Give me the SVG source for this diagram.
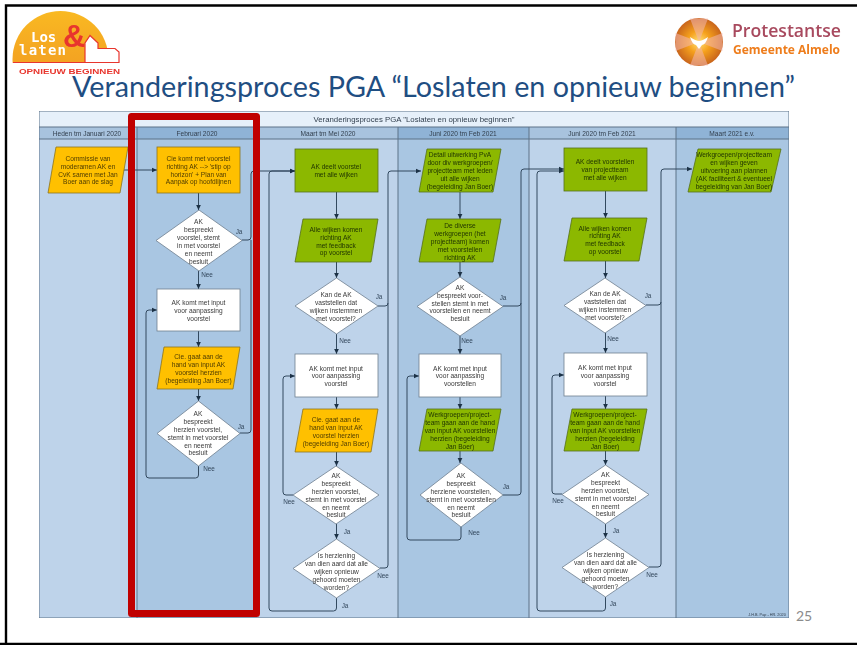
<svg xmlns="http://www.w3.org/2000/svg" width="857" height="645" viewBox="0 0 857 645">
<style>
.t{font-family:"Liberation Sans",Arial,sans-serif;font-size:6.6px;text-anchor:middle;fill:#3a3a3a}
.o{fill:#4f3c00}.g{fill:#1f3300}
.l{font-family:"Liberation Sans",Arial,sans-serif;font-size:6.4px;text-anchor:middle;fill:#33475c}
.h{font-family:"Liberation Sans",Arial,sans-serif;font-size:6.6px;text-anchor:middle;fill:#33404f}
.c{fill:none;stroke:#33495f;stroke-width:1}
.nw{fill:#fff;stroke:#6f7f8f;stroke-width:.8}
.no{fill:#ffc000;stroke:#8a7320;stroke-width:.8}
.ng{fill:#8cb800;stroke:#55701a;stroke-width:.8}
.lane{fill:none;stroke:#5d7288;stroke-width:1}
</style>
<defs>
<marker id="a" markerUnits="userSpaceOnUse" markerWidth="6" markerHeight="6" refX="5.500" refY="3" orient="auto"><path d="M0 .4L5.500 3L0 5.600z" fill="#1f3347"/></marker>
<filter id="b" x="0" y="0" width="100%" height="100%"><feGaussianBlur stdDeviation="0.3"/></filter>
<radialGradient id="sun" cx="50%" cy="50%" r="50%"><stop offset="0" stop-color="#ffe27a"/><stop offset=".45" stop-color="#f6a21f"/><stop offset="1" stop-color="#c9651d"/></radialGradient>
<linearGradient id="logo" x1="0" y1="0" x2="0" y2="1"><stop offset="0" stop-color="#f9b923"/><stop offset="1" stop-color="#ef8f1f"/></linearGradient>
<clipPath id="sunclip"><rect x="10" y="5" width="110" height="58"/></clipPath>
</defs>
<rect width="857" height="645" fill="#fff"/>
<path d="M6 645V5.500H857M0 644H857" fill="none" stroke="#000" stroke-width="2.400"/>

<g id="logo-los-laten" filter="url(#b)">
<circle cx="60.500" cy="59" r="48" fill="url(#logo)" clip-path="url(#sunclip)"/>
<path d="M85 63V43L90 35.500L98 43V48.500H115L119 52V62.500H13" fill="#fff" stroke="#e8352d" stroke-width="1.200"/>
<text x="31" y="42" font-family="DejaVu Sans Mono,monospace" font-size="14" font-weight="bold" fill="#fff">Los</text>
<text x="19" y="55" font-family="DejaVu Sans Mono,monospace" font-size="14" font-weight="bold" letter-spacing="1.200" fill="#fff">laten</text>
<text x="63" y="47" font-family="Liberation Sans,sans-serif" font-size="31" font-weight="bold" fill="#e8352d">&amp;</text>
<text x="19" y="73.500" font-family="Liberation Sans,sans-serif" font-size="7.300" font-weight="bold" fill="#e8352d" textLength="101" lengthAdjust="spacingAndGlyphs">OPNIEUW BEGINNEN</text>
</g>

<g id="logo-protestantse" filter="url(#b)">
<circle cx="699" cy="42" r="24" fill="url(#sun)"/>
<path d="M699 42L690 18.500H708zM699 42L690 65.500H708zM699 42L675.500 33V51zM699 42L722.500 33V51z" fill="#f3b7b0" opacity=".55"/>
<path d="M690 37Q696 41 699 41Q702 41 708 37Q706 44 702 45L699 49L696 45Q692 44 690 37z" fill="#fff"/>
<text x="732" y="37" font-family="Open Sans,sans-serif" font-size="18" font-weight="600" fill="#a84a5e" textLength="109" lengthAdjust="spacingAndGlyphs">Protestantse</text>
<text x="733" y="54" font-family="Open Sans,sans-serif" font-size="12.500" font-weight="bold" fill="#ee7d1c" textLength="107" lengthAdjust="spacingAndGlyphs">Gemeente Almelo</text>
</g>

<text id="title" x="72" y="97" font-family="Lato,Open Sans,sans-serif" font-size="29" fill="#1f4e82" textLength="723" lengthAdjust="spacingAndGlyphs">Veranderingsproces PGA “Loslaten en opnieuw beginnen”</text>

<g id="diagram" filter="url(#b)">
<g id="lanes">
<rect x="39" y="111" width="750" height="507" fill="#e6f0fa"/>
<rect x="39" y="139" width="98" height="479" fill="#bed3ea"/>
<rect x="137" y="139" width="120" height="479" fill="#a9c6e2"/>
<rect x="257" y="139" width="141" height="479" fill="#bed3ea"/>
<rect x="398" y="139" width="131" height="479" fill="#a9c6e2"/>
<rect x="529" y="139" width="147" height="479" fill="#bed3ea"/>
<rect x="676" y="139" width="113" height="479" fill="#a9c6e2"/>
<rect x="39" y="127" width="98" height="12" fill="#a8c3de"/>
<rect x="137" y="127" width="120" height="12" fill="#8fb3d6"/>
<rect x="257" y="127" width="141" height="12" fill="#a8c3de"/>
<rect x="398" y="127" width="131" height="12" fill="#8fb3d6"/>
<rect x="529" y="127" width="147" height="12" fill="#a8c3de"/>
<rect x="676" y="127" width="113" height="12" fill="#8fb3d6"/>
<path class="lane" d="M39 127H789M39 139H789M137 127V618M398 127V618M529 127V618M676 127V618M39 111H789V618H39z"/>
<text class="h" x="414" y="122" style="font-size:7.800px">Veranderingsproces PGA "Loslaten en opnieuw beginnen"</text>
<text class="h" x="87" y="135.500">Heden tm Januari 2020</text>
<text class="h" x="197" y="135.500">Februari 2020</text>
<text class="h" x="328" y="135.500">Maart tm Mei 2020</text>
<text class="h" x="463" y="135.500">Juni 2020 tm Feb 2021</text>
<text class="h" x="602" y="135.500">Juni 2020 tm Feb 2021</text>
<text class="h" x="732" y="135.500">Maart 2021 e.v.</text>
<text class="h" x="767" y="615.500" style="font-size:3.800px">J.H.B. Pap - HR. 2020</text>
</g>

<g id="connectors">
<path class="c" marker-end="url(#a)" d="M122 170H157"/>
<path class="c" marker-end="url(#a)" d="M198.500 193V210"/>
<path class="c" marker-end="url(#a)" d="M198.500 271V289"/>
<path class="c" marker-end="url(#a)" d="M198.500 331V347"/>
<path class="c" marker-end="url(#a)" d="M198.500 389V401"/>
<path class="c" marker-end="url(#a)" d="M242 240H248Q251 240 251 237V174Q251 171 254 171H295"/>
<path class="c" d="M240 433H248Q251 433 251 430V240"/>
<path class="c" marker-end="url(#a)" d="M198.500 466V475Q198.500 478 195.500 478H149Q146 478 146 475V313Q146 310 149 310H157"/>
<path class="c" marker-end="url(#a)" d="M336.500 598V608Q336.500 611 333.500 611H272Q269 611 269 608V174Q269 171 272 171H295"/>
<path class="c" marker-end="url(#a)" d="M336.500 192V219"/>
<path class="c" marker-end="url(#a)" d="M336.500 262V278"/>
<path class="c" marker-end="url(#a)" d="M336.500 334V354"/>
<path class="c" marker-end="url(#a)" d="M336.500 397V409"/>
<path class="c" marker-end="url(#a)" d="M336.500 452V466"/>
<path class="c" marker-end="url(#a)" d="M336.500 524V539"/>
<path class="c" marker-end="url(#a)" d="M293 495H286Q283 495 283 492V379Q283 376 286 376H295"/>
<path class="c" marker-end="url(#a)" d="M380 568H385Q388 568 388 565V174Q388 171 391 171H421"/>
<path class="c" d="M378 306H385Q388 306 388 303"/>
<path class="c" marker-end="url(#a)" d="M460 192V219"/>
<path class="c" marker-end="url(#a)" d="M460 262V277"/>
<path class="c" marker-end="url(#a)" d="M460 336V354"/>
<path class="c" marker-end="url(#a)" d="M460 397V409"/>
<path class="c" marker-end="url(#a)" d="M460 451V463"/>
<path class="c" marker-end="url(#a)" d="M461 527V537Q461 540 458 540H410Q407 540 407 537V379Q407 376 410 376H419"/>
<path class="c" marker-end="url(#a)" d="M503 495H518Q521 495 521 492V172Q521 169 524 169H564"/>
<path class="c" d="M503 306H518Q521 306 521 303"/>
<path class="c" marker-end="url(#a)" d="M605.500 191V218"/>
<path class="c" marker-end="url(#a)" d="M605.500 261V278"/>
<path class="c" marker-end="url(#a)" d="M605.500 333V353"/>
<path class="c" marker-end="url(#a)" d="M605.500 396V409"/>
<path class="c" marker-end="url(#a)" d="M605.500 451V465"/>
<path class="c" marker-end="url(#a)" d="M605.500 524V538"/>
<path class="c" marker-end="url(#a)" d="M562 494H555Q552 494 552 491V378Q552 375 555 375H564"/>
<path class="c" marker-end="url(#a)" d="M649 567H658Q661 567 661 564V172Q661 169 664 169H692"/>
<path class="c" d="M646 305H658Q661 305 661 302"/>
<path class="c" marker-end="url(#a)" d="M605.500 597V608Q605.500 611 602.500 611H540Q537 611 537 608V174Q537 171 540 171H564"/>
<text class="l" x="239" y="234">Ja</text><text class="l" x="207" y="276.500">Nee</text>
<text class="l" x="241" y="429">Ja</text><text class="l" x="209" y="471">Nee</text>
<text class="l" x="379" y="299">Ja</text><text class="l" x="345" y="343">Nee</text>
<text class="l" x="289" y="504">Nee</text><text class="l" x="347" y="534">Ja</text>
<text class="l" x="383" y="578">Nee</text><text class="l" x="345" y="608">Ja</text>
<text class="l" x="503" y="300">Ja</text><text class="l" x="467" y="343">Nee</text>
<text class="l" x="506" y="489">Ja</text><text class="l" x="474" y="535">Nee</text>
<text class="l" x="648" y="298">Ja</text><text class="l" x="613" y="341">Nee</text>
<text class="l" x="558" y="503">Nee</text><text class="l" x="616" y="533">Ja</text>
<text class="l" x="652" y="577">Nee</text><text class="l" x="613" y="606">Ja</text>
</g>

<g id="n1"><path class="no" d="M56 147H128L120 193H48z"/><text class="t o" y="161"><tspan x="88">Commissie van</tspan><tspan x="88" dy="7.800">moderamen AK en</tspan><tspan x="88" dy="7.800">CvK samen met Jan</tspan><tspan x="88" dy="7.800">Boer aan de slag</tspan></text></g>

<g id="n2"><rect class="no" x="157" y="147" width="83" height="46"/><text class="t o" y="161"><tspan x="198.500">Cie komt met voorstel</tspan><tspan x="198.500" dy="7.800">richting AK --&gt; 'stip op</tspan><tspan x="198.500" dy="7.800">horizon' + Plan van</tspan><tspan x="198.500" dy="7.800">Aanpak op hoofdlijnen</tspan></text></g>
<g id="n3"><path class="nw" d="M199 210L242 240.500L199 271L156 240.500z"/><text class="t" y="224"><tspan x="198.500">AK</tspan><tspan x="198.500" dy="7.900">bespreekt</tspan><tspan x="198.500" dy="7.900">voorstel, stemt</tspan><tspan x="198.500" dy="7.900">in met voorstel</tspan><tspan x="198.500" dy="7.900">en neemt</tspan><tspan x="198.500" dy="7.900">besluit</tspan></text></g>
<g id="n4"><rect class="nw" x="157" y="289" width="83" height="42"/><text class="t" y="305"><tspan x="198.500">AK komt met input</tspan><tspan x="198.500" dy="7.800">voor aanpassing</tspan><tspan x="198.500" dy="7.800">voorstel</tspan></text></g>
<g id="n5"><path class="no" d="M164 347H240L233 389H157z"/><text class="t o" y="359"><tspan x="198.500">Cie. gaat aan de</tspan><tspan x="198.500" dy="8">hand van input AK</tspan><tspan x="198.500" dy="8">voorstel herzien</tspan><tspan x="198.500" dy="8">(begeleiding Jan Boer)</tspan></text></g>
<g id="n6"><path class="nw" d="M198.500 401L240 433.500L198.500 466L157 433.500z"/><text class="t" y="416.300"><tspan x="198">AK</tspan><tspan x="198" dy="7.800">bespreekt</tspan><tspan x="198" dy="7.800">herzien voorstel,</tspan><tspan x="198" dy="7.800">stemt in met voorstel</tspan><tspan x="198" dy="7.800">en neemt</tspan><tspan x="198" dy="7.800">besluit</tspan></text></g>

<g id="n7"><rect class="ng" x="295" y="149" width="83" height="43"/><text class="t g" y="169"><tspan x="336">AK deelt voorstel</tspan><tspan x="336" dy="8">met alle wijken</tspan></text></g>
<g id="n8"><path class="ng" d="M303 219H378L371 262H295z"/><text class="t g" y="232.300"><tspan x="336">Alle wijken komen</tspan><tspan x="336" dy="7.700">richting AK</tspan><tspan x="336" dy="7.700">met feedback</tspan><tspan x="336" dy="7.700">op voorstel</tspan></text></g>
<g id="n9"><path class="nw" d="M336.500 278L378 306L336.500 334L295 306z"/><text class="t" y="297.300"><tspan x="336">Kan de AK</tspan><tspan x="336" dy="7.800">vaststellen dat</tspan><tspan x="336" dy="7.800">wijken instemmen</tspan><tspan x="336" dy="7.800">met voorstel?</tspan></text></g>
<g id="n10"><rect class="nw" x="295" y="354" width="83" height="43"/><text class="t" y="370.600"><tspan x="336">AK komt met input</tspan><tspan x="336" dy="7.800">voor aanpassing</tspan><tspan x="336" dy="7.800">voorstel</tspan></text></g>
<g id="n11"><path class="no" d="M303 409H378L371 452H295z"/><text class="t o" y="421.600"><tspan x="336">Cie. gaat aan de</tspan><tspan x="336" dy="8">hand van input AK</tspan><tspan x="336" dy="8">voorstel herzien</tspan><tspan x="336" dy="8">(begeleiding Jan Boer)</tspan></text></g>
<g id="n12"><path class="nw" d="M336 466L379 495L336 524L293 495z"/><text class="t" y="478.300"><tspan x="336">AK</tspan><tspan x="336" dy="7.800">bespreekt</tspan><tspan x="336" dy="7.800">herzien voorstel,</tspan><tspan x="336" dy="7.800">stemt in met voorstel</tspan><tspan x="336" dy="7.800">en neemt</tspan><tspan x="336" dy="7.800">besluit</tspan></text></g>
<g id="n13"><path class="nw" d="M336.500 539L380 568.500L336.500 598L293 568.500z"/><text class="t" y="558"><tspan x="336.500">Is herziening</tspan><tspan x="336.500" dy="8">van dien aard dat alle</tspan><tspan x="336.500" dy="8">wijken opnieuw</tspan><tspan x="336.500" dy="8">gehoord moeten</tspan><tspan x="336.500" dy="8">worden?</tspan></text></g>

<g id="n14"><path class="ng" d="M427 149H501L493 192H419z"/><text class="t g" y="157.300"><tspan x="460">Detail uitwerking PvA</tspan><tspan x="460" dy="7.800">door div werkgroepen/</tspan><tspan x="460" dy="7.800">projectteam met leden</tspan><tspan x="460" dy="7.800">uit alle wijken</tspan><tspan x="460" dy="7.800">(begeleiding Jan Boer)</tspan></text></g>
<g id="n15"><path class="ng" d="M427 219H501L493 262H419z"/><text class="t g" y="227.600"><tspan x="460">De diverse</tspan><tspan x="460" dy="8">werkgroepen (het</tspan><tspan x="460" dy="8">projectteam) komen</tspan><tspan x="460" dy="8">met voorstellen</tspan><tspan x="460" dy="8">richting AK</tspan></text></g>
<g id="n16"><path class="nw" d="M460 277L503 306.500L460 336L417 306.500z"/><text class="t" y="290"><tspan x="460">AK</tspan><tspan x="460" dy="7.800">bespreekt voor-</tspan><tspan x="460" dy="7.800">stellen stemt in met</tspan><tspan x="460" dy="7.800">voorstellen en neemt</tspan><tspan x="460" dy="7.800">besluit</tspan></text></g>
<g id="n17"><rect class="nw" x="419" y="354" width="82" height="43"/><text class="t" y="370.600"><tspan x="460">AK komt met input</tspan><tspan x="460" dy="7.800">voor aanpassing</tspan><tspan x="460" dy="7.800">voorstellen</tspan></text></g>
<g id="n18"><path class="ng" d="M427 409H501L493 451H419z"/><text class="t g" y="416.600"><tspan x="460">Werkgroepen/project-</tspan><tspan x="460" dy="8">team gaan aan de hand</tspan><tspan x="460" dy="8">van input AK voorstellen</tspan><tspan x="460" dy="8">herzien (begeleiding</tspan><tspan x="460" dy="8">Jan Boer)</tspan></text></g>
<g id="n19"><path class="nw" d="M461 463L503 495L461 527L420 495z"/><text class="t" y="478.300"><tspan x="461">AK</tspan><tspan x="461" dy="7.800">bespreekt</tspan><tspan x="461" dy="7.800">herziene voorstellen,</tspan><tspan x="461" dy="7.800">stemt in met voorstellen</tspan><tspan x="461" dy="7.800">en neemt</tspan><tspan x="461" dy="7.800">besluit</tspan></text></g>

<g id="n20"><rect class="ng" x="564" y="148" width="83" height="43"/><text class="t g" y="164"><tspan x="605">AK deelt voorstellen</tspan><tspan x="605" dy="8">van projectteam</tspan><tspan x="605" dy="8">met alle wijken</tspan></text></g>
<g id="n21"><path class="ng" d="M572 218H647L639 261H564z"/><text class="t g" y="230.600"><tspan x="605">Alle wijken komen</tspan><tspan x="605" dy="7.800">richting AK</tspan><tspan x="605" dy="7.800">met feedback</tspan><tspan x="605" dy="7.800">op voorstel</tspan></text></g>
<g id="n22"><path class="nw" d="M605 278L646 305.500L605 333L564 305.500z"/><text class="t" y="296.300"><tspan x="605">Kan de AK</tspan><tspan x="605" dy="7.800">vaststellen dat</tspan><tspan x="605" dy="7.800">wijken instemmen</tspan><tspan x="605" dy="7.800">met voorstel?</tspan></text></g>
<g id="n23"><rect class="nw" x="564" y="353" width="83" height="43"/><text class="t" y="369.600"><tspan x="605">AK komt met input</tspan><tspan x="605" dy="8">voor aanpassing</tspan><tspan x="605" dy="8">voorstel</tspan></text></g>
<g id="n24"><path class="ng" d="M572 409H647L639 451H564z"/><text class="t g" y="416.600"><tspan x="605">Werkgroepen/project-</tspan><tspan x="605" dy="8">team gaan aan de hand</tspan><tspan x="605" dy="8">van input AK voorstellen</tspan><tspan x="605" dy="8">herzien (begeleiding</tspan><tspan x="605" dy="8">Jan Boer)</tspan></text></g>
<g id="n25"><path class="nw" d="M605.500 465L649 494.500L605.500 524L562 494.500z"/><text class="t" y="477.300"><tspan x="605.500">AK</tspan><tspan x="605.500" dy="7.800">bespreekt</tspan><tspan x="605.500" dy="7.800">herzien voorstel,</tspan><tspan x="605.500" dy="7.800">stemt in met voorstel</tspan><tspan x="605.500" dy="7.800">en neemt</tspan><tspan x="605.500" dy="7.800">besluit</tspan></text></g>
<g id="n26"><path class="nw" d="M605.500 538L649 567.500L605.500 597L562 567.500z"/><text class="t" y="557.300"><tspan x="605.500">Is herziening</tspan><tspan x="605.500" dy="7.800">van dien aard dat alle</tspan><tspan x="605.500" dy="7.800">wijken opnieuw</tspan><tspan x="605.500" dy="7.800">gehoord moeten</tspan><tspan x="605.500" dy="7.800">worden?</tspan></text></g>

<g id="n27"><path class="ng" d="M698 149H781L771 192H688z"/><text class="t g" y="157.300"><tspan x="734">Werkgroepen/projectteam</tspan><tspan x="734" dy="7.800">en wijken geven</tspan><tspan x="734" dy="7.800">uitvoering aan plannen</tspan><tspan x="734" dy="7.800">(AK faciliteert &amp; eventueel</tspan><tspan x="734" dy="7.800">begeleiding van Jan Boer)</tspan></text></g>
</g>

<rect id="highlight" x="131.500" y="116.500" width="125" height="497" fill="none" stroke="#c00000" stroke-width="7" stroke-linejoin="round"/>
<text id="page" x="796" y="621" font-family="Lato,Open Sans,sans-serif" font-size="14" fill="#8b8b8b">25</text>
</svg>
